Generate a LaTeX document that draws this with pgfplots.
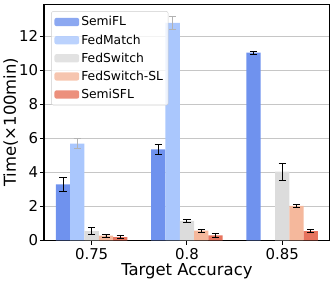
\documentclass[border=0pt]{standalone}
\usepackage{pgfplots}
\pgfplotsset{compat=1.18}
\usepackage{fontspec}
\setmainfont{DejaVu Sans}
\definecolor{cA}{HTML}{6F92EE}
\definecolor{cB}{HTML}{AAC7FD}
\definecolor{cC}{HTML}{DCDCDC}
\definecolor{cD}{HTML}{F5B89C}
\definecolor{cE}{HTML}{E7745E}
\pgfplotsset{
  myerr/.style={error bars/.cd, y dir=both, y explicit,
    error bar style={black, line width=0.8pt},
    error mark options={rotate=90, mark size=3.5bp, black, line width=0.8pt}},
  myerrgray/.style={error bars/.cd, y dir=both, y explicit,
    error bar style={gray!60, line width=0.8pt},
    error mark options={rotate=90, mark size=3.5bp, gray!60, line width=0.8pt}},
}
\begin{document}
\begin{tikzpicture}
\begin{axis}[
  scale only axis,
  width=277bp, height=229bp,
  xmin=-0.5, xmax=2.5, ymin=0, ymax=13.9,
  ybar=0pt, bar width=0.15,
  xtick={0,1,2}, xticklabels={0.75,0.8,0.85},
  ytick={0,2,4,6,8,10,12},
  ymajorgrids, grid style={gray!45, line width=0.6pt},
  axis line style={black, line width=1pt},
  tick style={black, line width=0.8pt},
  major tick length=4bp,
  tick align=outside,
  xtick pos=bottom, ytick pos=left,
  /pgf/number format/assume math mode=true,
  tick label style={font=\fontsize{14.5}{15}\selectfont},
  yticklabel style={inner sep=1.5bp},
  xlabel={Target Accuracy}, ylabel={Time(×100min)},
  label style={font=\fontsize{16}{17}\selectfont},
  xlabel style={yshift=3bp},
  ylabel style={yshift=-4bp},
  legend cell align=left,
  legend style={at={(0.025,0.97)}, anchor=north west, fill=white, fill opacity=0.8, text opacity=1, draw=gray!40, rounded corners=2pt, font=\fontsize{12}{13}\selectfont, row sep=3bp, inner sep=3bp},
  legend image code/.code={\fill[#1] (0bp,-4bp) rectangle (24bp,4bp);},
]
\addplot[fill=cA, draw=none, myerr] coordinates {(0,3.3) +- (0,0.4) (1,5.35) +- (0,0.3) (2,11.05) +- (0,0.08)};
\addplot[fill=cB, draw=none, myerrgray] coordinates {(0,5.7) +- (0,0.3) (1,12.8) +- (0,0.4)};
\addplot[fill=cC, draw=none, myerr] coordinates {(0,0.55) +- (0,0.2) (1,1.15) +- (0,0.1) (2,4.05) +- (0,0.5)};
\addplot[fill=cD, draw=none, myerr] coordinates {(0,0.28) +- (0,0.1) (1,0.57) +- (0,0.1) (2,2.03) +- (0,0.08)};
\addplot[fill=cE, draw=none, myerr] coordinates {(0,0.2) +- (0,0.1) (1,0.3) +- (0,0.1) (2,0.55) +- (0,0.1)};
\legend{SemiFL,FedMatch,FedSwitch,FedSwitch-SL,SemiSFL}
\end{axis}
\path (current axis.north east) ++(6bp,4bp);
\end{tikzpicture}
\end{document}
